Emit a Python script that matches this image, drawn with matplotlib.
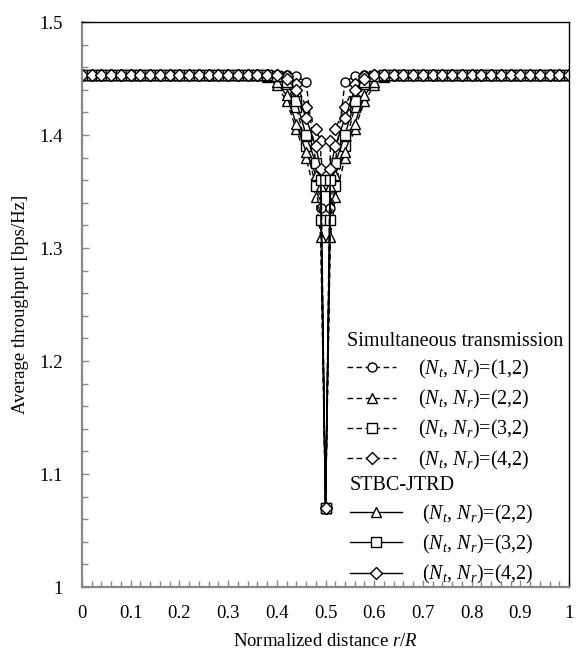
import numpy as np
import matplotlib
matplotlib.use('Agg')
import matplotlib.pyplot as plt
from matplotlib.lines import Line2D
from matplotlib.ticker import MultipleLocator

plt.rcParams['font.family'] = ['Liberation Serif']
plt.rcParams['mathtext.fontset'] = 'custom'
plt.rcParams['mathtext.rm'] = 'Liberation Serif'
plt.rcParams['mathtext.it'] = 'Liberation Serif:italic'

# Data
base = 1.453
x_flat = [round(0.02 * i, 2) for i in range(51)]
x_dip = [0.36, 0.38, 0.40, 0.42, 0.44, 0.46, 0.48, 0.49, 0.50, 0.51, 0.52, 0.54, 0.56, 0.58, 0.60, 0.62, 0.64]

# Simultaneous transmission (dashed)
sim_12 = [1.453, 1.453, 1.453, 1.453, 1.452, 1.447, 1.375, 1.335, 1.07, 1.335, 1.375, 1.447, 1.452, 1.453, 1.453, 1.453, 1.453]
sim_22 = [1.453, 1.451, 1.444, 1.430, 1.405, 1.380, 1.345, 1.310, 1.07, 1.310, 1.345, 1.380, 1.405, 1.430, 1.444, 1.451, 1.453]
sim_32 = [1.453, 1.453, 1.452, 1.445, 1.425, 1.390, 1.355, 1.325, 1.07, 1.325, 1.355, 1.390, 1.425, 1.445, 1.452, 1.453, 1.453]
sim_42 = [1.453, 1.453, 1.453, 1.452, 1.445, 1.425, 1.405, 1.395, 1.07, 1.395, 1.405, 1.425, 1.445, 1.452, 1.453, 1.453, 1.453]

# STBC-JTRD (solid)
stbc_22 = [1.453, 1.452, 1.447, 1.435, 1.410, 1.385, 1.365, 1.355, 1.07, 1.355, 1.365, 1.385, 1.410, 1.435, 1.447, 1.452, 1.453]
stbc_32 = [1.453, 1.453, 1.452, 1.447, 1.430, 1.400, 1.375, 1.360, 1.07, 1.360, 1.375, 1.400, 1.430, 1.447, 1.452, 1.453, 1.453]
stbc_42 = [1.453, 1.453, 1.453, 1.450, 1.440, 1.415, 1.390, 1.370, 1.07, 1.370, 1.390, 1.415, 1.440, 1.450, 1.453, 1.453, 1.453]

labels = ['(1,2)', '(2,2)', '(3,2)', '(4,2)']
xticklabels = ['0', '0.1', '0.2', '0.3', '0.4', '0.5', '0.6', '0.7', '0.8', '0.9', '1']
yticklabels = ['1', '1.1', '1.2', '1.3', '1.4', '1.5']


def full(x_dip, y_dip):
	d = dict(zip(x_flat, [base] * len(x_flat)))
	d.update(dict(zip(x_dip, y_dip)))
	xs = sorted(d)
	return xs, [d[k] for k in xs]


fig = plt.figure(figsize=(5.8, 6.57), dpi=100)
ax = fig.add_axes([0.1414, 0.1065, 0.8397, 0.86])

fs = 13.5
lfs = 14.5
dash = (0, (4, 2.5))
mk = dict(markersize=6.5, markerfacecolor='white', markeredgecolor='black', markeredgewidth=1.0, color='black', linewidth=1.0)

sim = [(sim_12, 'o'), (sim_22, '^'), (sim_32, 's'), (sim_42, 'D')]
stbc = [(stbc_22, '^'), (stbc_32, 's'), (stbc_42, 'D')]

for y, m in sim:
	xs, ys = full(x_dip, y)
	ax.plot(xs, ys, linestyle=dash, marker=m, **mk)
for y, m in stbc:
	xs, ys = full(x_dip, y)
	ax.plot(xs, ys, linestyle='-', marker=m, **mk)

ax.set_xlim(0, 1)
ax.set_ylim(1, 1.5)
ax.set_xticks(np.linspace(0, 1, 11))
ax.set_xticklabels(xticklabels)
ax.set_yticks(np.linspace(1, 1.5, 6))
ax.set_yticklabels(yticklabels)
ax.xaxis.set_minor_locator(MultipleLocator(0.02))
ax.yaxis.set_minor_locator(MultipleLocator(0.02))
ax.tick_params(which='both', direction='in', color='#888888', width=1.0, labelsize=fs)
ax.tick_params(which='major', length=5)
ax.tick_params(which='minor', length=4)
ax.tick_params(axis='x', pad=13)
ax.tick_params(axis='y', pad=14)
for s in ['left', 'bottom']:
	ax.spines[s].set_color('#888888')
	ax.spines[s].set_linewidth(1.6)
for s in ['top', 'right']:
	ax.spines[s].set_color('black')
	ax.spines[s].set_linewidth(1.0)

ax.set_xlabel('Normalized distance $r$/$R$', fontsize=fs, labelpad=8)
ax.set_ylabel('Average throughput [bps/Hz]', fontsize=fs, labelpad=7)


def lab(s):
	return '($N_t$, $N_r$)=' + s


h1 = [Line2D([], [], linestyle=dash, marker=m, **mk) for _, m in sim]
leg1 = ax.legend(h1, [lab(s) for s in labels], title='Simultaneous transmission', loc='upper left',
	bbox_to_anchor=(0.545, 0.452), frameon=False, fontsize=lfs, title_fontsize=lfs, handlelength=2.4,
	labelspacing=0.36, borderpad=0, borderaxespad=0, handletextpad=1.1, alignment='left')
ax.add_artist(leg1)
h2 = [Line2D([], [], linestyle='-', marker=m, **mk) for _, m in stbc]
leg2 = ax.legend(h2, [lab(s) for s in labels[1:]], title='STBC-JTRD', loc='upper left',
	bbox_to_anchor=(0.55, 0.196), frameon=False, fontsize=lfs, title_fontsize=lfs, handlelength=2.6,
	labelspacing=0.36, borderpad=0, borderaxespad=0, handletextpad=1.0, alignment='left')

fig.savefig('out.png', dpi=100)
